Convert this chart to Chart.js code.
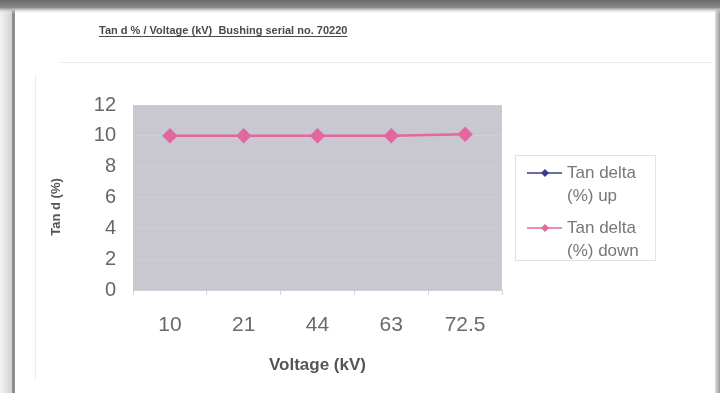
<!DOCTYPE html>
<html>
<head>
<meta charset="utf-8">
<script src="https://cdn.jsdelivr.net/npm/chart.js@4/dist/chart.umd.min.js"></script>
<style>
  html, body { margin: 0; padding: 0; background: #fff; overflow: hidden; }
  #wrap { width: 720px; height: 393px; position: relative; }
</style>
</head>
<body>
<div id="wrap"><canvas id="c" width="720" height="393"></canvas></div>
<script>
// Test voltages and measured dissipation factor
const voltages = ['10', '21', '44', '63', '72.5'];
const tanDeltaUp = [10, 10, 10, 10, 10.1];
const tanDeltaDown = [10, 10, 10, 10, 10.1];
const yTickValues = [0, 2, 4, 6, 8, 10, 12];
const chartTitle = 'Tan d % / Voltage (kV)  Bushing serial no. 70220';
const seriesNames = [['Tan delta', '(%) up'], ['Tan delta', '(%) down']];
const seriesColors = ['#3a3a8c', '#e2679f'];

const FONT = 'Arial, "Liberation Sans", sans-serif';

// Sheet frame, plot background and faint chart-area guides
const framePlugin = {
  id: 'frame',
  beforeDraw(chart) {
    const { ctx, chartArea: a } = chart;
    ctx.save();
    ctx.fillStyle = '#fff';
    ctx.fillRect(0, 0, 720, 393);

    // left strip and dark edge
    let g = ctx.createLinearGradient(0, 0, 12, 0);
    g.addColorStop(0, '#f3f3f3');
    g.addColorStop(1, '#d2d2d2');
    ctx.fillStyle = g;
    ctx.fillRect(0, 8, 12, 385);
    ctx.fillStyle = '#8e8e8e';
    ctx.fillRect(12, 10, 3, 383);

    // right edge
    g = ctx.createLinearGradient(715, 0, 720, 0);
    g.addColorStop(0, '#e0e0e0');
    g.addColorStop(1, '#9a9a9a');
    ctx.fillStyle = g;
    ctx.fillRect(715, 10, 5, 383);

    // top shadow band
    g = ctx.createLinearGradient(0, 0, 0, 14);
    g.addColorStop(0, '#6a6a6a');
    g.addColorStop(0.55, '#8c8c8c');
    g.addColorStop(1, 'rgba(255,255,255,0)');
    ctx.fillStyle = g;
    ctx.fillRect(0, 0, 720, 14);

    // faint guides
    ctx.strokeStyle = '#ececec';
    ctx.lineWidth = 1;
    ctx.beginPath();
    ctx.moveTo(60, 62.5); ctx.lineTo(712, 62.5);
    ctx.moveTo(35.5, 75); ctx.lineTo(35.5, 380);
    ctx.stroke();

    // plot area fill
    ctx.fillStyle = '#c9c8d1';
    ctx.fillRect(a.left, a.top, a.right - a.left, a.bottom - a.top);
    ctx.restore();
  },
  afterDraw(chart) {
    const { ctx } = chart;
    ctx.save();

    // underlined chart title
    ctx.font = 'bold 11px ' + FONT;
    ctx.fillStyle = '#4a4a4a';
    ctx.textBaseline = 'alphabetic';
    ctx.textAlign = 'left';
    ctx.fillText(chartTitle, 99, 34);
    const w = ctx.measureText(chartTitle).width;
    ctx.fillRect(99, 36, w, 1);

    // y axis title
    ctx.font = 'bold 13px ' + FONT;
    ctx.fillStyle = '#555';
    ctx.translate(56, 207);
    ctx.rotate(-Math.PI / 2);
    ctx.textAlign = 'center';
    ctx.textBaseline = 'middle';
    ctx.fillText('Tan d (%)', 0, 0);
    ctx.setTransform(1, 0, 0, 1, 0, 0);

    // legend box
    ctx.strokeStyle = '#e2e2e2';
    ctx.lineWidth = 1;
    ctx.strokeRect(515.5, 155.5, 140, 105);
    ctx.font = '17px ' + FONT;
    ctx.textAlign = 'left';
    ctx.textBaseline = 'middle';
    const rowY = [173, 228];
    chart.data.datasets.forEach((ds, i) => {
      const y = rowY[i];
      ctx.strokeStyle = ds.borderColor;
      ctx.lineWidth = 1.5;
      ctx.beginPath();
      ctx.moveTo(527, y); ctx.lineTo(562, y);
      ctx.stroke();
      ctx.fillStyle = ds.pointBackgroundColor;
      ctx.beginPath();
      ctx.moveTo(545, y - 4); ctx.lineTo(549, y); ctx.lineTo(545, y + 4); ctx.lineTo(541, y);
      ctx.closePath();
      ctx.fill();
      ctx.fillStyle = '#777';
      seriesNames[i].forEach((t, k) => ctx.fillText(t, 567, y + k * 23));
    });
    ctx.restore();
  }
};

new Chart(document.getElementById('c'), {
  type: 'line',
  data: {
    labels: voltages,
    datasets: [
      {
        label: seriesNames[0].join(' '),
        data: tanDeltaUp,
        borderColor: seriesColors[0],
        backgroundColor: seriesColors[0],
        pointBackgroundColor: seriesColors[0],
        pointBorderColor: seriesColors[0],
        pointStyle: 'rectRot',
        pointRadius: 5,
        borderWidth: 1,
        order: 1
      },
      {
        label: seriesNames[1].join(' '),
        data: tanDeltaDown,
        borderColor: seriesColors[1],
        backgroundColor: seriesColors[1],
        pointBackgroundColor: seriesColors[1],
        pointBorderColor: seriesColors[1],
        pointStyle: 'rectRot',
        pointRadius: 6,
        borderWidth: 2.5,
        order: 0
      }
    ]
  },
  options: {
    responsive: false,
    animation: false,
    devicePixelRatio: 1,
    layout: { padding: { left: 50, top: 105, right: 218, bottom: 0 } },
    plugins: {
      legend: { display: false },
      tooltip: { enabled: false },
      title: { display: false }
    },
    scales: {
      x: {
        offset: true,
        grid: {
          offset: true,
          drawOnChartArea: false,
          drawTicks: true,
          tickLength: 5,
          color: '#d4d4d4'
        },
        border: { display: false },
        ticks: {
          color: '#6a6a6a',
          font: { family: FONT, size: 21 },
          padding: 18,
          maxRotation: 0
        },
        title: {
          display: true,
          text: 'Voltage (kV)',
          color: '#555',
          font: { family: FONT, size: 17, weight: 'bold' },
          padding: { top: 0, bottom: 17 }
        },
        afterFit(scale) { scale.height = 103; }
      },
      y: {
        min: 0,
        max: 12,
        afterBuildTicks(scale) {
          scale.ticks = yTickValues.map(v => ({ value: v }));
        },
        grid: {
          drawTicks: false,
          color: '#cfced7'
        },
        border: { display: false },
        ticks: {
          color: '#666',
          font: { family: FONT, size: 20 },
          padding: 17
        },
        afterFit(scale) { scale.width = 83; }
      }
    }
  },
  plugins: [framePlugin]
});
</script>
</body>
</html>
